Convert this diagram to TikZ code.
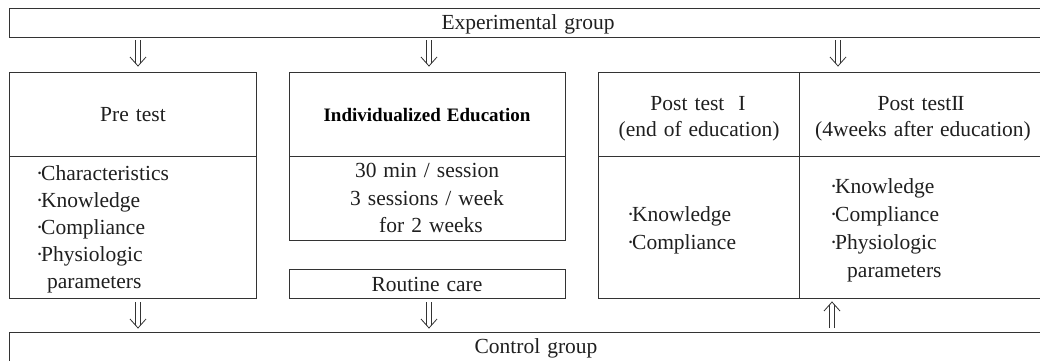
\documentclass[tikz,border=0pt]{standalone}
\usepackage{fontspec}
\setmainfont{Liberation Serif}[WordSpace=1.3]
\newcommand\RomTwo{I\kern-1.3pt I}
\newcommand\mdot{·\kern-2.2pt}
\begin{document}
\begin{tikzpicture}[x=1pt,y=-1pt,
  box/.style={draw=black!80, line width=0.9pt, inner sep=0pt, anchor=north west},
  rule/.style={draw=black!80, line width=0.9pt},
  txt/.style={inner sep=0pt, font=\fontsize{21.5}{27}\selectfont, text=black!88},
  ctxt/.style={txt, anchor=base},
  ltxt/.style={txt, anchor=base west},
  btxt/.style={inner sep=0pt, anchor=base, font=\fontsize{19}{24}\bfseries\selectfont, text=black},
  shaft/.style={draw=black!80, line width=0.8pt},
]
\useasboundingbox (0,0) rectangle (1040,360);
\clip (0,0) rectangle (1040,360);
\fill[white] (0,0) rectangle (1040,360);

% boxes
\node[box, minimum width=1040pt, minimum height=29pt] (exp) at (9,8) {};
\node[box, minimum width=247pt, minimum height=226pt] (pre) at (9,72) {};
\node[box, minimum width=276pt, minimum height=168pt] (edu) at (289,72) {};
\node[box, minimum width=276pt, minimum height=29pt] (rout) at (289,269) {};
\node[box, minimum width=450pt, minimum height=226pt] (post) at (598,72) {};
\node[box, minimum width=1040pt, minimum height=40pt] (ctrl) at (9,332) {};

% dividers
\coordinate (d1) at (9,156);
\coordinate (d2) at (289,156);
\coordinate (d3) at (598,156);
\coordinate (v1) at (799,72);
\draw[rule] (d1) -- (d1 -| pre.east);
\draw[rule] (d2) -- (d2 -| edu.east);
\draw[rule] (d3) -- (d3 -| post.east);
\draw[rule] (v1) -- (v1 |- post.south);

% texts
\node[ctxt] (texp) at (528,29) {Experimental group};
\node[ctxt] (tpre) at (133,121) {Pre test};
\node[btxt] (tedu) at (427,121) {Individualized Education};
\node[ctxt] (tp1a) at (698,110) {Post test\ \ I};
\node[ctxt] (tp1b) at (699,136) {(end of education)};
\node[ctxt] (tp2a) at (921,110) {Post test\RomTwo};
\node[ctxt] (tp2b) at (923,136) {(4weeks after education)};

\node[ltxt] (pr1) at (36,180) {\mdot Characteristics};
\node[ltxt] (pr2) at (36,207) {\mdot Knowledge};
\node[ltxt] (pr3) at (36,234) {\mdot Compliance};
\node[ltxt] (pr4) at (36,261) {\mdot Physiologic};
\node[ltxt] (pr5) at (47,288) {parameters};

\node[ctxt] (ed1) at (427,177) {30 min / session};
\node[ctxt] (ed2) at (427,205) {3 sessions / week};
\node[ctxt] (ed3) at (431,232) {for 2 weeks};

\node[ctxt] (trout) at (427,291) {Routine care};

\node[ltxt] (pa1) at (627,221) {\mdot Knowledge};
\node[ltxt] (pa2) at (627,249) {\mdot Compliance};

\node[ltxt] (pb1) at (830,193) {\mdot Knowledge};
\node[ltxt] (pb2) at (830,221) {\mdot Compliance};
\node[ltxt] (pb3) at (830,249) {\mdot Physiologic};
\node[ltxt] (pb4) at (847,277) {parameters};

\node[ctxt] (tctrl) at (536,353) {Control group};

% double arrows
\foreach \n/\x/\ya/\yb in {a/138/40/66, b/429/40/66, c/838/40/66, d/138/302/328, e/429/302/328} {
  \coordinate (s\n) at (\x,\ya);
  \coordinate (t\n) at (\x,\yb);
  \draw[shaft] ([xshift=-2.5pt]s\n) -- ([xshift=-2.5pt,yshift=2.8pt]t\n);
  \draw[shaft] ([xshift=2.5pt]s\n) -- ([xshift=2.5pt,yshift=2.8pt]t\n);
  \draw[shaft, line join=miter] ([xshift=-8pt,yshift=9pt]t\n) -- (t\n) -- ([xshift=8pt,yshift=9pt]t\n);
}
% up arrow
\coordinate (su) at (832,328);
\coordinate (tu) at (832,302);
\draw[shaft] ([xshift=-2.5pt]su) -- ([xshift=-2.5pt,yshift=-2.8pt]tu);
\draw[shaft] ([xshift=2.5pt]su) -- ([xshift=2.5pt,yshift=-2.8pt]tu);
\draw[shaft, line join=miter] ([xshift=-8pt,yshift=-9pt]tu) -- (tu) -- ([xshift=8pt,yshift=-9pt]tu);
\end{tikzpicture}
\end{document}
